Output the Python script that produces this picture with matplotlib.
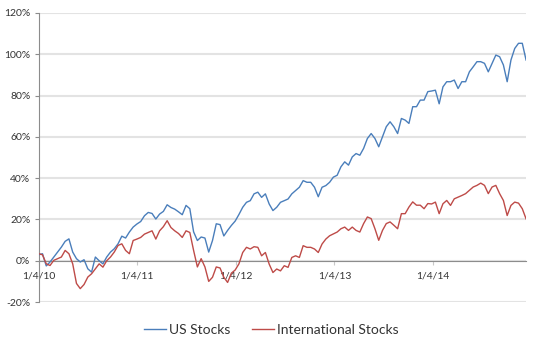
import matplotlib
matplotlib.use("Agg")
import matplotlib.pyplot as plt
import pandas as pd

start_date = "2010-01-04"
n_points = 130
step = "14D"

us_stocks = [
    2.9, 3.4, -2.5, -0.6, 1.8, 4.2, 6.6, 9.4, 10.6, 4.2, 1.0, -0.6, 0.5, -3.9, -5.5, 1.8,
    0.0, -1.5, 1.8, 4.2, 5.8, 8.2, 11.9, 11.0, 13.9, 16.3,
    17.8,
    19.0, 21.8, 23.4, 22.9, 20.2, 22.6, 23.9, 27.1, 25.8, 25.0, 23.7, 22.3, 26.8, 25.2, 14.0,
    9.8, 11.5, 11.0, 4.2, 9.8, 17.9, 17.5, 12.0, 14.7, 17.1,
    19.2,
    22.4, 25.9, 28.3, 29.1, 32.4, 33.2, 30.7, 32.4, 27.5, 24.3, 25.9, 28.3, 29.1, 29.9, 32.4,
    34.0, 35.6, 38.8, 38.0, 38.0, 35.6, 31.0, 35.6, 36.4, 38.0,
    40.5,
    41.4, 45.5, 47.9, 46.3, 50.3, 51.9, 51.1, 54.4, 59.2, 61.6, 59.2, 55.2, 60.0, 64.9, 67.3,
    64.9, 61.6, 68.9, 68.1, 66.5, 74.6, 74.6, 77.8, 77.8, 81.9,
    82.2,
    82.6, 76.0, 84.2, 86.7, 86.7, 87.5, 83.4, 86.7, 86.7, 91.5, 93.9, 96.4, 96.4, 95.6, 91.5,
    95.6, 99.6, 98.8, 94.8, 86.7, 97.2, 102.8, 105.3, 105.3,
    97.2,
]

intl_stocks = [
    3.4, 2.9, -1.5, -2.3, 0.2, 1.0, 1.8, 5.0, 3.4, -1.5, -11.0, -13.5, -11.5, -7.9, -6.3, -3.9,
    -1.5, -3.1, 0.0, 1.8, 4.2, 7.4, 8.2, 5.0, 3.4, 9.8,
    10.5,
    11.3, 12.9, 13.7, 14.5, 10.5, 14.5, 16.5, 19.4, 16.1, 14.5, 13.2, 11.3, 14.5, 13.7, 5.0,
    -3.0, 1.0, -3.0, -10.0, -8.0, -3.0, -3.5, -8.0, -10.5, -6.0,
    -4.5,
    -1.5, 4.0, 6.5, 5.7, 6.8, 6.5, 2.4, 4.0, -1.6, -5.7, -4.0, -4.9, -2.4, -3.2, 1.6,
    2.4, 1.6, 7.3, 6.5, 6.5, 5.7, 4.0, 8.1, 10.5, 12.1,
    13.0,
    13.9, 15.5, 16.3, 14.7, 16.3, 14.7, 13.9, 18.0, 21.2, 20.4, 15.5, 9.9, 14.7, 18.0, 18.8,
    17.2, 15.5, 22.8, 22.8, 26.0, 28.5, 26.9, 26.9, 25.2, 27.7,
    27.5,
    28.4, 22.8, 27.6, 29.2, 26.8, 30.0, 30.8, 31.6, 32.5, 34.1, 35.7, 36.5, 37.6, 36.5, 32.5,
    35.7, 36.5, 32.5, 29.2, 21.9, 26.8, 28.4, 27.9, 25.2,
    20.3,
]

tick_dates = ["2010-01-04", "2011-01-04", "2012-01-04", "2013-01-04", "2014-01-04"]
tick_labels = ["1/4/10", "1/4/11", "1/4/12", "1/4/13", "1/4/14"]
y_ticks = [-20, 0, 20, 40, 60, 80, 100, 120]

dates = pd.date_range(start_date, periods=n_points, freq=step)

plt.rcParams['font.family'] = ['Lato', 'DejaVu Sans']

fig = plt.figure(figsize=(5.39, 3.5), dpi=100)
ax = fig.add_axes([0.0718, 0.137, 0.976 - 0.0718, 0.963 - 0.137])

ax.plot(dates, us_stocks, color='#4a7ebb', lw=1.0, label='US Stocks', zorder=3)
ax.plot(dates, intl_stocks, color='#be4b48', lw=1.0, label='International Stocks', zorder=3)

ax.set_ylim(-20, 120)
ax.set_xlim(pd.Timestamp(start_date), dates[-1])
ax.set_yticks(y_ticks)
ax.set_yticklabels([f"{v}%" for v in y_ticks])
ax.set_xticks(pd.to_datetime(tick_dates))
ax.set_xticklabels(tick_labels)

ax.grid(axis='y', color='#e3e3e3', lw=1.5, zorder=0)
ax.set_axisbelow(True)

for s in ['top', 'right']:
    ax.spines[s].set_visible(False)
ax.spines['bottom'].set_position(('data', 0))
ax.spines['bottom'].set_color('#8c8c8c')
ax.spines['left'].set_color('#8c8c8c')
ax.spines['bottom'].set_zorder(2)

ax.tick_params(axis='y', length=3, width=0.8, color='#8c8c8c', labelsize=7.5,
               labelcolor='#333333', pad=3)
ax.tick_params(axis='x', length=3, width=0.8, color='#c8c8c8', labelsize=7.5,
               labelcolor='#333333', pad=5)

leg = fig.legend(loc='center', bbox_to_anchor=(0.503, 0.057), ncol=2, frameon=False,
                 fontsize=10, handlelength=1.6, handletextpad=0.2, columnspacing=1.6)
for t in leg.get_texts():
    t.set_color('#333333')

fig.savefig('out.png', dpi=100)
